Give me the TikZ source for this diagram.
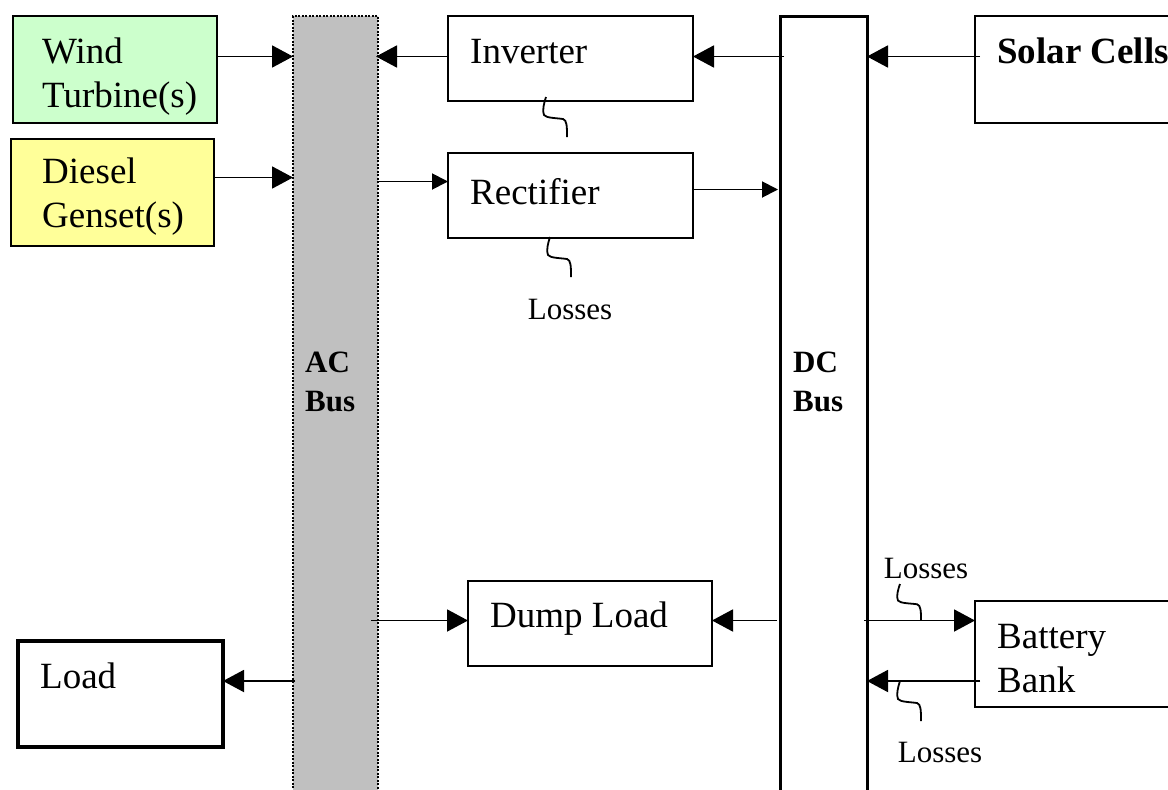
\documentclass[tikz,border=0pt]{standalone}
\usepackage{fontspec}
\setmainfont{Liberation Serif}
\usetikzlibrary{arrows.meta,calc}
\definecolor{windgreen}{HTML}{CCFFCC}
\definecolor{dieselyellow}{HTML}{FFFF99}
\definecolor{busgray}{HTML}{C0C0C0}
\begin{document}
\begin{tikzpicture}[x=1pt,y=-1pt,
  box/.style={draw=black, line width=1.6pt, inner sep=0pt, outer sep=0pt, anchor=north west},
  txt/.style={anchor=base west, inner sep=0pt, align=left, font=\fontsize{37}{44}\selectfont},
  bustxt/.style={anchor=base west, inner sep=0pt, align=left, font=\bfseries\fontsize{31}{39}\selectfont},
  losstxt/.style={anchor=base, inner sep=0pt, font=\fontsize{31}{36}\selectfont},
  conn/.style={line width=1.9pt},
  bigarr/.style={conn, -{Triangle[length=21pt,width=22pt]}},
  smallarr/.style={conn, -{Triangle[length=16pt,width=16pt]}},
  loss/.pic={\draw[line width=1.8pt] (0,0) .. controls (-2,6) and (-4,14) .. (-2,18) .. controls (0,21) and (10,21) .. (17,22) .. controls (21,23) and (21,30) .. (21,40);}
]
\useasboundingbox (0,0) rectangle (1168,790);
\clip (0,0) rectangle (1168,790);
\fill[white] (0,0) rectangle (1168,790);

% level coordinates
\coordinate (yA) at (0,56.5);
\coordinate (yB) at (0,177.5);
\coordinate (yC) at (0,181.5);
\coordinate (yD) at (0,189.5);
\coordinate (yE) at (0,620.5);
\coordinate (yF) at (0,681);

% buses
\node[box, fill=busgray, draw=none, minimum width=85pt, minimum height=800pt] (ac) at (293,16) {};
\draw[line width=2.4pt, dash pattern=on 2pt off 1.5pt]
  (ac.south west) -- (ac.north west) -- (ac.north east) -- (ac.south east);
\node[box, fill=white, line width=3pt, minimum width=87pt, minimum height=800pt] (dc) at (780,16) {};
\node[bustxt] (acT) at (305,411) {AC\\Bus};
\node[bustxt] (dcT) at (793,411) {DC\\Bus};

% boxes
\node[box, fill=windgreen, line width=2pt, minimum width=204pt, minimum height=107pt] (wind) at (13,16) {};
\node[txt] (windT) at (42,107) {Wind\\Turbine(s)};
\node[box, fill=dieselyellow, line width=2pt, minimum width=203pt, minimum height=107pt] (diesel) at (11,139) {};
\node[txt] (dieselT) at (42,227) {Diesel\\Genset(s)};
\node[box, minimum width=245pt, minimum height=85pt] (inv) at (448,16) {};
\node[txt] (invT) at (470,63) {Inverter};
\node[box, minimum width=245pt, minimum height=85pt] (rect) at (448,153) {};
\node[txt] (rectT) at (470,204) {Rectifier};
\node[box, line width=2pt, minimum width=260pt, minimum height=107pt] (solar) at (975,16) {};
\node[txt, font=\bfseries\fontsize{37}{44}\selectfont] (solarT) at (997,63) {Solar Cells};
\node[box, minimum width=244pt, minimum height=85pt] (dump) at (468,581) {};
\node[txt] (dumpT) at (490,627) {Dump Load};
\node[box, line width=3.5pt, minimum width=205pt, minimum height=106pt] (load) at (18,641) {};
\node[txt] (loadT) at (40,688) {Load};
\node[box, minimum width=260pt, minimum height=106pt] (bat) at (975,601) {};
\node[txt] (batT) at (997,692) {Battery\\Bank};

% connectors
\draw[bigarr] (wind.east |- yA) -- (ac.west |- yA);
\draw[bigarr] (inv.west |- yA) -- ($(ac.east |- yA)+(-2,0)$);
\draw[bigarr] ($(dc.west |- yA)+(4,0)$) -- (inv.east |- yA);
\draw[bigarr] ($(solar.west |- yA)+(5,0)$) -- (dc.east |- yA);
\draw[bigarr] (diesel.east |- yB) -- (ac.west |- yB);
\draw[smallarr] (ac.east |- yC) -- (rect.west |- yC);
\draw[smallarr] (rect.east |- yD) -- ($(dc.west |- yD)+(-2,0)$);
\draw[bigarr] ($(ac.east |- yE)+(-7,0)$) -- (dump.west |- yE);
\draw[bigarr] ($(dc.west |- yE)+(-3,0)$) -- (dump.east |- yE);
\draw[bigarr] ($(ac.west |- yF)+(2,0)$) -- (load.east |- yF);
\draw[bigarr] ($(dc.east |- yE)+(-3,0)$) -- (bat.west |- yE);
\draw[bigarr] ($(bat.west |- yF)+(5,0)$) -- (dc.east |- yF);

% loss symbols
\pic at (546,97) {loss};
\pic at (550,237) {loss};
\pic[yscale=0.92] at (900,584) {loss};
\pic at (900,681) {loss};
\node[losstxt] (loss1) at (570,319) {Losses};
\node[losstxt] (loss2) at (926,578) {Losses};
\node[losstxt] (loss3) at (940,762) {Losses};
\end{tikzpicture}
\end{document}
